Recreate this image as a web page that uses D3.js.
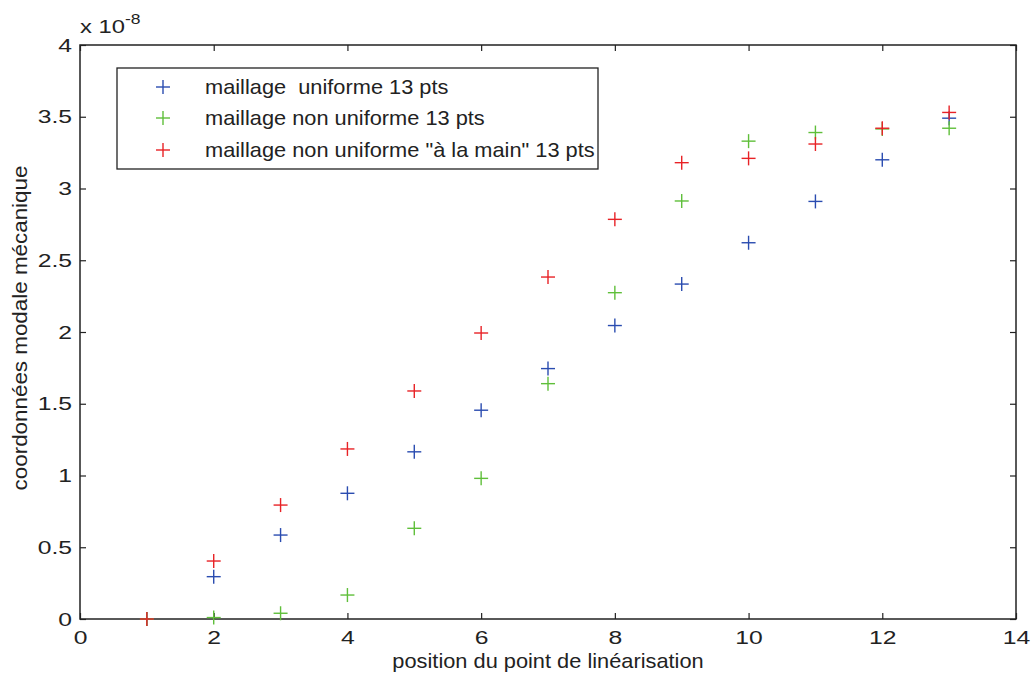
<!DOCTYPE html>
<html><head><meta charset="utf-8">
<script src="https://cdn.jsdelivr.net/npm/d3@7"></script>
<style>body{margin:0;background:#fff}svg{display:block}text{font-family:"Liberation Sans",Arial,sans-serif;fill:#222}</style>
</head><body><svg id="c" width="1034" height="680"></svg>
<script>
const positions = [1,2,3,4,5,6,7,8,9,10,11,12,13];
const uniforme = [0,0.295,0.585,0.876,1.165,1.455,1.745,2.045,2.334,2.622,2.91,3.2,3.49];
const nonUniforme = [0,0.01,0.04,0.167,0.632,0.98,1.64,2.274,2.913,3.33,3.39,3.415,3.42];
const aLaMain = [0,0.404,0.794,1.185,1.589,1.993,2.383,2.785,3.18,3.21,3.31,3.42,3.53];
const xTicks = [0,2,4,6,8,10,12,14];
const yTicks = [0,0.5,1,1.5,2,2.5,3,3.5,4];
const seriesNames = ['maillage  uniforme 13 pts','maillage non uniforme 13 pts','maillage non uniforme "à la main" 13 pts'];
const seriesColors = ['#2a4cb0','#5fbf3a','#e82226'];
const seriesData = [uniforme, nonUniforme, aLaMain];

const svg = d3.select('#c');
const L=80, R=1016, T=45, B=619;
const x = d3.scaleLinear().domain([0,14]).range([L,R]);
const y = d3.scaleLinear().domain([0,4]).range([B,T]);

svg.append('rect').attr('x',L).attr('y',T).attr('width',R-L).attr('height',B-T)
  .attr('fill','none').attr('stroke','#222').attr('stroke-width',1.5);

const fmt = d => String(d);
const TS = 1.3; // horizontal stretch of tick labels
const xb = svg.append('g').attr('transform',`translate(0,${B})`)
  .call(d3.axisBottom(x).tickValues(xTicks).tickSize(-6).tickPadding(12).tickFormat(fmt));
const xt = svg.append('g').attr('transform',`translate(0,${T})`)
  .call(d3.axisTop(x).tickValues(xTicks).tickSize(-6).tickFormat(''));
const yl = svg.append('g').attr('transform',`translate(${L},0)`)
  .call(d3.axisLeft(y).tickValues(yTicks).tickSize(-6).tickPadding(8).tickFormat(fmt));
const yr = svg.append('g').attr('transform',`translate(${R},0)`)
  .call(d3.axisRight(y).tickValues(yTicks).tickSize(-6).tickFormat(''));
[xb,xt,yl,yr].forEach(g=>{
  g.select('.domain').remove();
  g.selectAll('line').attr('stroke','#222').attr('stroke-width',1.2);
  g.selectAll('text').attr('font-size',19).attr('fill','#222')
   .attr('font-family','"Liberation Sans",Arial,sans-serif');
});
xb.selectAll('text').attr('dy','0.71em').attr('transform',`scale(${TS},1)`);
yl.selectAll('text').attr('x',-8/TS).attr('transform',`scale(${TS},1)`);

// exponent
const ex = svg.append('text').attr('transform','translate(80,33) scale(1.25,1)').attr('font-size',19);
ex.append('tspan').text('x 10');
ex.append('tspan').attr('dy',-9).attr('font-size',14).text('-8');

// labels
svg.append('text').attr('transform',`translate(${(L+R)/2},668) scale(1.09,1)`).attr('text-anchor','middle')
  .attr('font-size',20).text('position du point de linéarisation');
svg.append('text').attr('transform',`translate(27,${(T+B)/2-4}) rotate(-90) scale(1.12,1)`)
  .attr('text-anchor','middle').attr('font-size',20).text('coordonnées modale mécanique');

const s = 7;
function plus(g, cx, cy, col){
  g.append('line').attr('x1',cx-s).attr('x2',cx+s).attr('y1',cy).attr('y2',cy).attr('stroke',col).attr('stroke-width',1.4);
  g.append('line').attr('x1',cx).attr('x2',cx).attr('y1',cy-s).attr('y2',cy+s).attr('stroke',col).attr('stroke-width',1.4);
}
seriesData.forEach((arr,i)=>{
  const g = svg.append('g');
  arr.forEach((v,j)=>plus(g, x(positions[j]), y(v), seriesColors[i]));
});

// legend
const lg = svg.append('g');
lg.append('rect').attr('x',117).attr('y',68).attr('width',481).attr('height',101)
  .attr('fill','#fff').attr('stroke','#222').attr('stroke-width',1.3);
const rows=[87,118,150];
seriesNames.forEach((n,i)=>{
  plus(lg,163,rows[i],seriesColors[i]);
  lg.append('text').attr('transform',`translate(205,${rows[i]+7}) scale(1.09,1)`).attr('font-size',20)
    .attr('xml:space','preserve').style('white-space','pre').text(n);
});
</script></body></html>
